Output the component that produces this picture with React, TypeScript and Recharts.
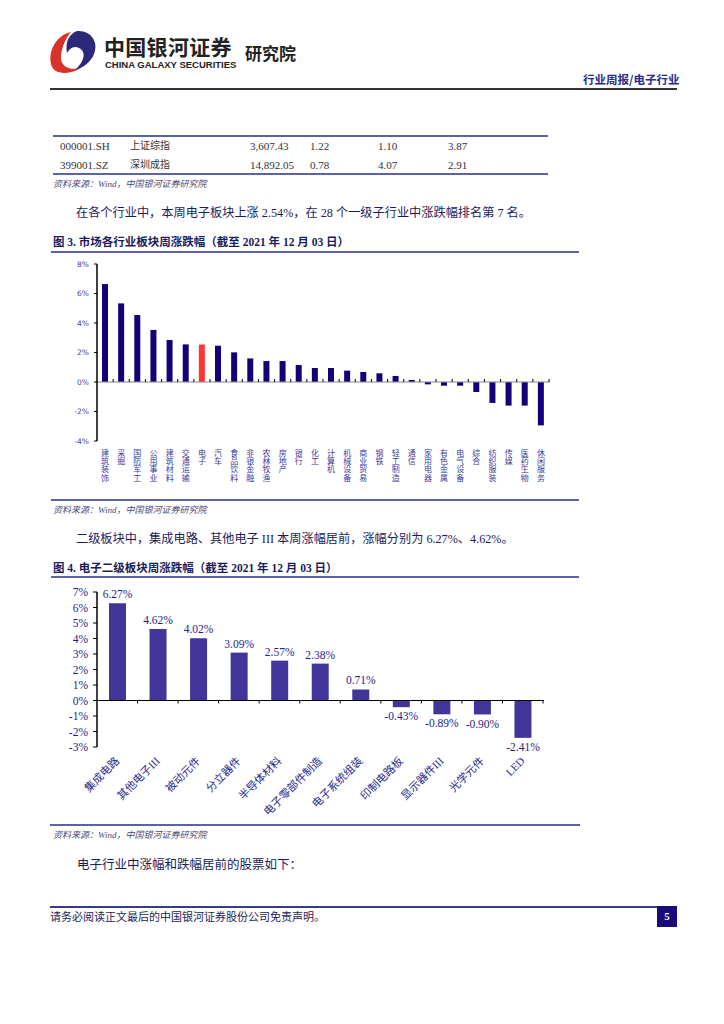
import React from "react";
import { Bar, BarChart, Cell, LabelList, ReferenceLine, XAxis, YAxis } from "recharts";

// 表格：指数
const indexCodes = ["000001.SH", "399001.SZ"];
const indexNames = ["上证综指", "深圳成指"];
const indexClose = ["3,607.43", "14,892.05"];
const indexWeek = ["1.22", "0.78"];
const indexMonth = ["1.10", "4.07"];
const indexYear = ["3.87", "2.91"];

// 图 3：申万一级行业周涨跌幅 (%)
const industries = [
  "建筑装饰", "采掘", "国防军工", "公用事业", "建筑材料", "交通运输", "电子",
  "汽车", "食品饮料", "非银金融", "农林牧渔", "房地产", "银行", "化工",
  "计算机", "机械设备", "商业贸易", "钢铁", "轻工制造", "通信", "家用电器",
  "有色金属", "电气设备", "综合", "纺织服装", "传媒", "医药生物", "休闲服务",
];
const industryChange = [
  6.64, 5.33, 4.54, 3.53, 2.85, 2.55, 2.54, 2.46, 2.01, 1.6, 1.42, 1.42, 1.15,
  0.95, 0.95, 0.77, 0.68, 0.59, 0.41, 0.14, -0.16, -0.25, -0.25, -0.68, -1.42,
  -1.6, -1.6, -2.94,
];
const industryTicks = [-4, -2, 0, 2, 4, 6, 8];
const highlighted = "电子";

// 图 4：电子二级板块周涨跌幅 (%)
const subSectors = [
  "集成电路", "其他电子III", "被动元件", "分立器件", "半导体材料", "电子零部件制造",
  "电子系统组装", "印制电路板", "显示器件III", "光学元件", "LED",
];
const subChange = [6.27, 4.62, 4.02, 3.09, 2.57, 2.38, 0.71, -0.43, -0.89, -0.9, -2.41];
const subTicks = [-3, -2, -1, 0, 1, 2, 3, 4, 5, 6, 7];

const SERIF = '"Liberation Serif", "Noto Sans CJK SC", serif';
const NAVY = "#1c1c5a";
const RULE = "#5a62a8";

const industryData = industries.map((name, i) => ({ name, value: industryChange[i] }));
const subData = subSectors.map((name, i) => ({ name, value: subChange[i] }));

function zeroAxis(count: number, tickDir: number, stroke: string) {
  return (props: any) => {
    const { x1, x2, y1 } = props;
    const step = (x2 - x1) / count;
    const marks = [];
    for (let i = 1; i <= count; i++) {
      const x = x1 + step * i;
      marks.push(<line key={i} x1={x} x2={x} y1={y1} y2={y1 + tickDir * 3} stroke="#000" strokeWidth={1} />);
    }
    return (
      <g>
        <line x1={x1} x2={x2 + 1} y1={y1} y2={y1} stroke={stroke} strokeWidth={1} />
        {marks}
      </g>
    );
  };
}

function VerticalTick({ x, y, payload }: any) {
  const chars = String(payload.value).split("");
  return (
    <g>
      {chars.map((c, i) => (
        <text key={i} x={x} y={y + 15 + i * 8.2} textAnchor="middle" fontSize={8} fill="#3b3b9e" fontFamily={SERIF}>
          {c}
        </text>
      ))}
    </g>
  );
}

function SlantTick({ x, y, payload }: any) {
  return (
    <g transform={`translate(${x},${y + 12})`}>
      <text x={0} y={0} dy="0.35em" textAnchor="end" transform="rotate(-45)" fontSize={11} fill="#2a2a8c" fontFamily={SERIF}>
        {payload.value}
      </text>
    </g>
  );
}

function IndustryChart() {
  return (
    <BarChart width={530} height={250} data={industryData} margin={{ top: 12, right: 21, bottom: 0, left: 0 }}>
      <XAxis dataKey="name" interval={0} axisLine={false} tickLine={false} tickSize={0} tickMargin={0} height={61} tick={<VerticalTick />} />
      <YAxis
        width={57}
        domain={[-4, 8]}
        ticks={industryTicks}
        interval={0}
        tickFormatter={(v) => `${v}%`}
        axisLine={{ stroke: "#000", strokeWidth: 1.5 }}
        tickLine={{ stroke: "#000" }}
        tickSize={3}
        tickMargin={5}
        tick={{ fontSize: 7.5, fill: "#4646a8", fontFamily: '"DejaVu Sans", sans-serif' }}
      />
      <ReferenceLine y={0} shape={zeroAxis(industries.length, -1, "#888")} />
      <Bar dataKey="value" barSize={6} isAnimationActive={false}>
        {industryData.map((d) => (
          <Cell key={d.name} fill={d.name === highlighted ? "#ff3535" : "#15007a"} />
        ))}
      </Bar>
    </BarChart>
  );
}

function SubSectorChart() {
  return (
    <BarChart width={523} height={250} data={subData} margin={{ top: 16, right: 20, bottom: 0, left: 0 }}>
      <XAxis dataKey="name" interval={0} axisLine={false} tickLine={false} tickSize={0} tickMargin={0} height={79} tick={<SlantTick />} />
      <YAxis
        width={57}
        domain={[-3, 7]}
        ticks={subTicks}
        interval={0}
        tickFormatter={(v) => `${v}%`}
        axisLine={{ stroke: "#000", strokeWidth: 1.5 }}
        tickLine={{ stroke: "#000" }}
        tickSize={4}
        tickMargin={5}
        tick={{ fontSize: 11.5, fill: "#1e1e88", fontFamily: SERIF }}
      />
      <ReferenceLine y={0} shape={zeroAxis(subSectors.length, 1, "#000")} />
      <Bar dataKey="value" barSize={17} fill="#42359a" isAnimationActive={false}>
        <LabelList
          dataKey="value"
          position="top"
          formatter={(v: any) => `${Number(v).toFixed(2)}%`}
          style={{ fontSize: 11.5, fill: "#1e1e88", fontFamily: SERIF }}
        />
      </Bar>
    </BarChart>
  );
}

function Logo() {
  return (
    <svg width={52} height={46} viewBox="0 0 52 46" style={{ position: "absolute", left: 47, top: 30 }}>
      <path d="M24 2 C10 5 1 20 4 34 C6 44 20 46 34 38 C22 41 13 36 14 26 C15 16 19 8 24 2 Z" fill="#d8322b" />
      <path d="M30 1 C44 0 52 12 47 24 C44 32 36 38 28 40 C37 32 40 22 32 18 C26 15 22 20 20 23 C18 12 22 4 30 1 Z" fill="#2c2a78" />
    </svg>
  );
}

const abs = (left: number, top: number, extra: React.CSSProperties = {}): React.CSSProperties => ({
  position: "absolute",
  left,
  top,
  whiteSpace: "nowrap",
  ...extra,
});

export default function App() {
  const colX = [60, 130, 250, 310, 378, 448];
  return (
    <div style={{ position: "absolute", left: 0, top: 0, width: 724, height: 1024, background: "#fff", fontFamily: SERIF, overflow: "hidden" }}>
      <Logo />
      <div style={abs(104, 33, { fontSize: 21, fontWeight: 700, color: "#222", fontFamily: '"Noto Sans CJK SC", sans-serif', letterSpacing: 0.3, lineHeight: "26px" })}>中国银河证券</div>
      <div style={abs(105, 60, { fontSize: 9.5, fontWeight: 700, color: "#222", fontFamily: '"Liberation Sans", Arial, sans-serif', lineHeight: "10px" })}>CHINA GALAXY SECURITIES</div>
      <div style={abs(245, 43, { fontSize: 17, fontWeight: 700, color: "#222", fontFamily: '"Noto Sans CJK SC", sans-serif', lineHeight: "20px" })}>研究院</div>
      <div style={abs(583, 72, { fontSize: 11.5, fontWeight: 700, color: "#2a2a8c", fontFamily: '"Noto Sans CJK SC", sans-serif', lineHeight: "14px" })}>行业周报/电子行业</div>
      <div style={abs(50, 88, { width: 627, height: 2, background: "#333" })} />

      {/* 表格 */}
      <div style={abs(53, 135, { width: 495, height: 1.5, background: RULE })} />
      {indexCodes.map((code, r) => {
        const cells = [code, indexNames[r], indexClose[r], indexWeek[r], indexMonth[r], indexYear[r]];
        return cells.map((c, j) => (
          <div key={`${r}-${j}`} style={abs(colX[j], 139 + r * 18.5, { fontSize: j === 1 ? 10 : 11, color: "#333", lineHeight: "14px" })}>
            {c}
          </div>
        ));
      })}
      <div style={abs(53, 173, { width: 495, height: 1.5, background: RULE })} />
      <div style={abs(53, 178, { fontSize: 9, fontStyle: "italic", color: "#4a4a7a", lineHeight: "12px" })}>资料来源：Wind，中国银河证券研究院</div>

      <div style={abs(76, 204, { fontSize: 12.2, color: NAVY, lineHeight: "18px" })}>
        在各个行业中，本周电子板块上涨 2.54%，在 28 个一级子行业中涨跌幅排名第 7 名。
      </div>

      <div style={abs(53, 234, { fontSize: 11.5, fontWeight: 700, color: NAVY, lineHeight: "16px" })}>
        图 3. 市场各行业板块周涨跌幅（截至 2021 年 12 月 03 日）
      </div>
      <div style={abs(51, 251, { width: 528, height: 2, background: RULE })} />
      <div style={abs(40, 252)}>
        <IndustryChart />
      </div>
      <div style={abs(51, 499, { width: 528, height: 2, background: RULE })} />
      <div style={abs(53, 504, { fontSize: 9, fontStyle: "italic", color: "#4a4a7a", lineHeight: "12px" })}>资料来源：Wind，中国银河证券研究院</div>

      <div style={abs(76, 530, { fontSize: 12.2, color: NAVY, lineHeight: "18px" })}>
        二级板块中，集成电路、其他电子 III 本周涨幅居前，涨幅分别为 6.27%、4.62%。
      </div>

      <div style={abs(53, 560, { fontSize: 11.5, fontWeight: 700, color: NAVY, lineHeight: "16px" })}>
        图 4. 电子二级板块周涨跌幅（截至 2021 年 12 月 03 日）
      </div>
      <div style={abs(51, 576, { width: 528, height: 2, background: RULE })} />
      <div style={abs(40, 576)}>
        <SubSectorChart />
      </div>
      <div style={abs(50, 824, { width: 530, height: 2, background: RULE })} />
      <div style={abs(53, 829, { fontSize: 9, fontStyle: "italic", color: "#4a4a7a", lineHeight: "12px" })}>资料来源：Wind，中国银河证券研究院</div>

      <div style={abs(77, 856, { fontSize: 12.5, color: NAVY, lineHeight: "18px" })}>电子行业中涨幅和跌幅居前的股票如下：</div>

      <div style={abs(50, 906, { width: 627, height: 1.5, background: "#3a3a8a" })} />
      <div style={abs(50, 910, { fontSize: 11, color: NAVY, lineHeight: "14px" })}>请务必阅读正文最后的中国银河证券股份公司免责声明。</div>
      <div style={abs(657, 906, { width: 20, height: 21, background: "#1a0b7a", color: "#fff", fontSize: 11, fontWeight: 700, textAlign: "center", lineHeight: "21px" })}>5</div>
    </div>
  );
}
